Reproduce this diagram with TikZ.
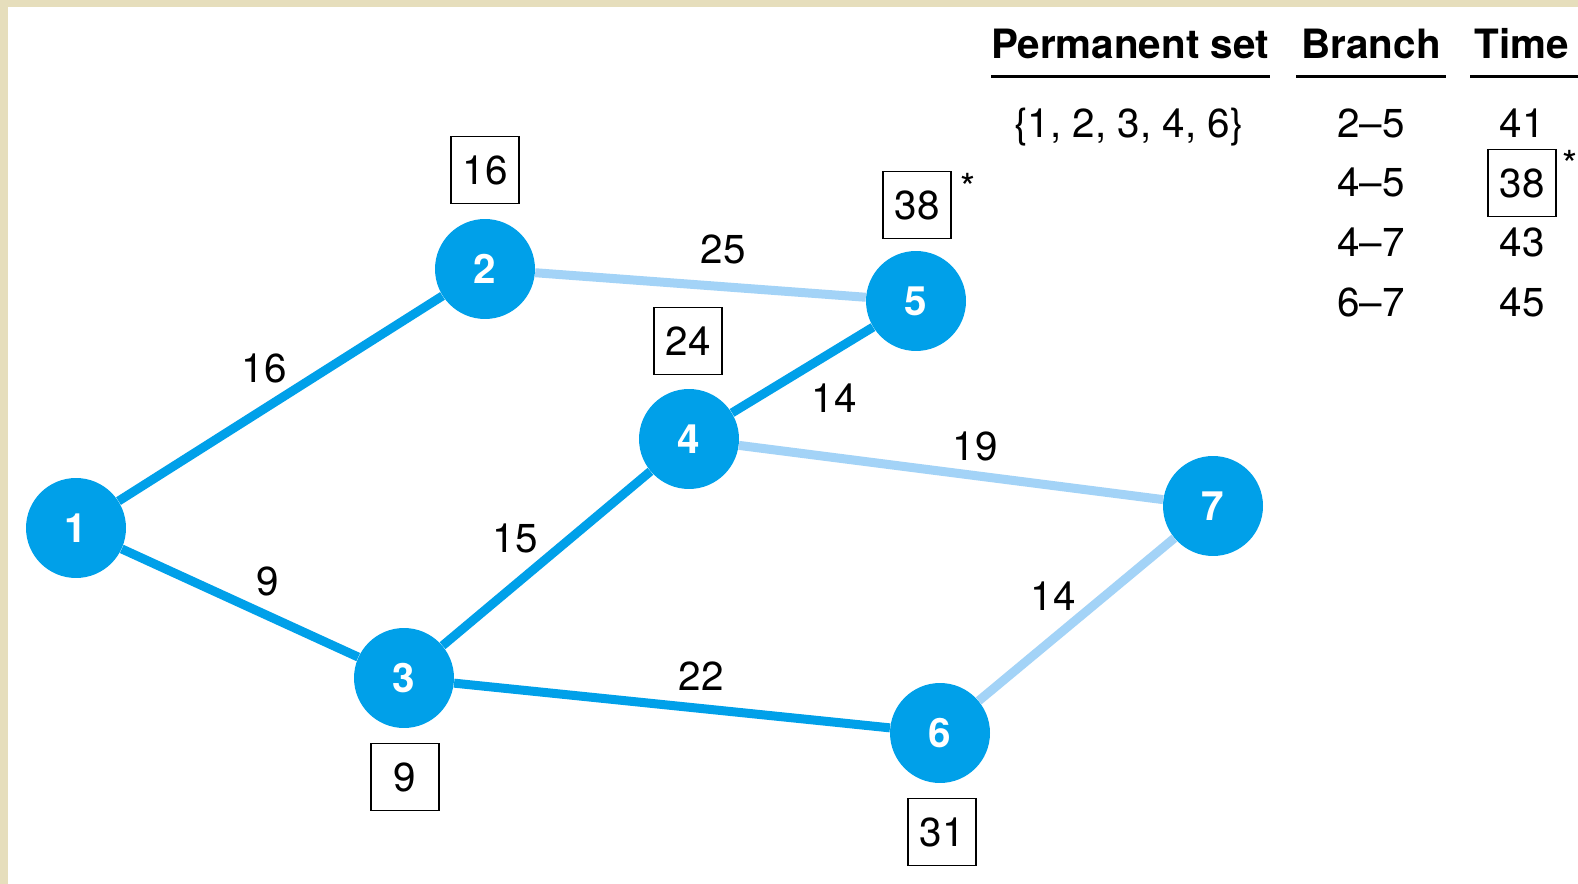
\documentclass[tikz,border=0pt]{standalone}
\usepackage{fontspec}
\setmainfont{TeX Gyre Heros}
\usepackage{xcolor}
\usepackage{tikz}
\usetikzlibrary{positioning}
\tikzset{
  permedge/.style={draw=NetBlue, line width=0.18cm},
  tentedge/.style={draw=NetPale, line width=0.18cm},
  weightlabel/.style={font=\fontsize{23}{27}\selectfont, inner sep=0pt},
  timebox/.style={draw, line width=1.1pt, minimum width=1.36cm, minimum height=1.34cm,
    inner sep=0pt, font=\fontsize{23}{27}\selectfont},
  headrule/.style={line width=0.06cm}
}
\definecolor{NetBlue}{HTML}{00A0E9}
\definecolor{NetPale}{HTML}{A3D3F7}
\definecolor{FrameTan}{HTML}{E6DEBC}

\begin{document}
\begin{tikzpicture}[
  x=0.02cm, y=-0.02cm,
  vertex/.style={circle, fill=NetBlue, minimum size=2cm, inner sep=0pt, text=white,
    font=\fontsize{23}{27}\selectfont\bfseries},
  tabtext/.style={font=\fontsize{23}{27}\selectfont, anchor=base, inner sep=0pt},
  tabhead/.style={tabtext, font=\fontsize{23}{27}\selectfont\bfseries},
  star/.style={font=\fontsize{22}{26}\selectfont, anchor=base, inner sep=0pt}
]
\fill[FrameTan] (0,0) rectangle (1578,884);
\fill[white] (8,7) rectangle (1578,884);
\useasboundingbox (0,0) rectangle (1578,884);

\node[vertex] at (76,528) (n1) {1};
\node[vertex] at (485,269) (n2) {2};
\node[vertex] at (404,678) (n3) {3};
\node[vertex] at (689,439) (n4) {4};
\node[vertex] at (916,301) (n5) {5};
\node[vertex] at (940,733) (n6) {6};
\node[vertex] at (1213,506) (n7) {7};

\draw[permedge] (n1) -- (n2);
\draw[permedge] (n1) -- (n3);
\draw[permedge] (n3) -- (n4);
\draw[permedge] (n3) -- (n6);
\draw[permedge] (n4) -- (n5);
\draw[tentedge] (n2) -- (n5);
\draw[tentedge] (n4) -- (n7);
\draw[tentedge] (n6) -- (n7);

\node[weightlabel] at (264,368) (w12) {16};
\node[weightlabel] at (268,581) (w13) {9};
\node[weightlabel] at (723,249) (w25) {25};
\node[weightlabel] at (834,398) (w45) {14};
\node[weightlabel] at (515,538) (w34) {15};
\node[weightlabel] at (975,446) (w47) {19};
\node[weightlabel] at (701,676) (w36) {22};
\node[weightlabel] at (1053,596) (w67) {14};

\node[timebox] at (485,170) (t2) {16};
\node[timebox] at (405,777) (t3) {9};
\node[timebox] at (688,341) (t4) {24};
\node[timebox] at (917,205) (t5) {38};
\node[timebox] at (942,832) (t6) {31};
\node[star] at (968,202) (s5) {*};

\node[tabhead] at (1130,58.5) (hperm) {Permanent set};
\node[tabhead] at (1371,58.5) (hbranch) {Branch};
\node[tabhead] at (1522,58.5) (htime) {Time};
\draw[headrule] (991,76.5) -- (1270,76.5);
\draw[headrule] (1296,76.5) -- (1446,76.5);
\draw[headrule] (1470,76.5) -- (1578,76.5);

\node[tabtext] at (1129,138) (pset) {\{1, 2, 3, 4, 6\}};
\node[tabtext] at (1371,138) (b25) {2--5};
\node[tabtext] at (1371,197) (b45) {4--5};
\node[tabtext] at (1371,257) (b47) {4--7};
\node[tabtext] at (1371,317) (b67) {6--7};
\node[tabtext] at (1522,138) (c25) {41};
\node[timebox] at (1522,183) (c45) {38};
\node[tabtext] at (1522,257) (c47) {43};
\node[tabtext] at (1522,317) (c67) {45};
\node[star] at (1570,179) (s45) {*};
\end{tikzpicture}
\end{document}
